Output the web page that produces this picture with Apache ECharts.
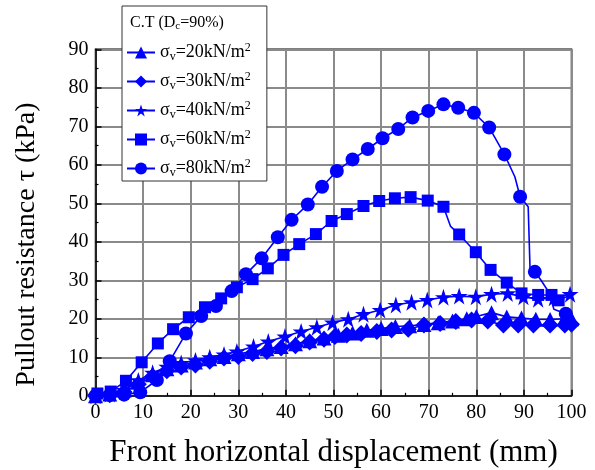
<!DOCTYPE html>
<html>
<head>
<meta charset="utf-8">
<script src="https://cdn.jsdelivr.net/npm/echarts@6/dist/echarts.min.js"></script>
<style>
  html, body { margin: 0; padding: 0; background: #fff; }
  #chart { width: 595px; height: 470px; }
</style>
</head>
<body>
<div id="chart"></div>
<script>
// Pullout resistance vs. front horizontal displacement, C.T (Dc = 90%)
// Each point: [displacement (mm), resistance (kPa)]; a third value of 0 means
// the point is drawn on the line but without a marker.
var labels = ['20', '30', '40', '60', '80'];

var s20 = [
  [0,0],[3,0.5],[6,1.5],[9,3.5],[12,5.5],[15,7],[18,8],[21,8.8],[24,9.6],[27,10.2],
  [30,10.9],[33,11.5],[36,12.2],[39,12.8],[42,13.5],[45,14.3],[48,15],[51,15.7],
  [54,16.3],[57,17],[60,17.5],[63,18],[66,18.2],[69,18.5],[72,19],[75,19.4],
  [78,20],[80,20.6],[83.2,21.6],[86.4,20.5],[89.5,20.2],[92.5,19.9],[95.5,19.8],
  [98.5,20],[100,20]
];
var s30 = [
  [0,0],[3,0.3],[6,1],[9,3],[12,5],[15,6.5],[18,7.5],[21,8],[24,9],[27,9.8],
  [30,10.2],[33,11],[36,11.5],[39,12.4],[42,13],[45,14],[48,14.7],[50.3,15.4],
  [52.8,15.8],[55.8,16.2],[59.1,16.7],[62.2,17.1],[65.7,17.3],[69,18.4],
  [72.4,18.8],[75.7,19.3],[79,19.7],[82.4,19.4],[85.7,18.4],[88.8,18.4],
  [92,18.4],[95.5,18.4],[98.6,18.4],[100,18.6]
];
var s40 = [
  [0,0],[3,0.5],[6,1.5],[9,4],[12,6],[15,7.5],[18,8.5],[21,9.2],[24,10],[27,10.7],
  [29.7,11.5],[33.2,12.8],[36.3,14.1],[39.8,15.4],[43.2,16.7],[46.5,17.8],
  [49.8,19],[53.1,19.9],[56.3,21.2],[59.8,22.3],[63.1,23.6],[66.4,24.3],
  [69.7,24.9],[73.1,25.6],[76.4,25.9],[79.9,25.7],[83.2,26.4],[86.6,26.6],
  [89.9,25.7],[93,25.1],[96.3,25.5],[99.7,26.4]
];
var s60 = [
  [0.4,0.6],[3.2,1.1],[6.4,3.9],[9.7,8.7],[13.1,13.6],[16.3,17.3],[19.6,20.4],
  [23,23],[26.4,25.3],[29.7,28.2],[33,30.3],[36.2,33.1],[39.5,36.6],[42.8,39.4],
  [46.3,42],[49.6,45.4],[52.8,47.2],[56.3,49.3],[59.6,50.6],[62.9,51.3],
  [66.2,51.6],[69.8,50.7],[73.1,49.1],[74.6,44,0],[76.4,41.9],[79.9,37.3],
  [83,32.7],[86.4,29.4],[89.5,26.6],[93,26.2],[95.8,26.2],[97.3,24.8],[100,26.3,0]
];
var s80 = [
  [0,0],[3,0.2],[6,0.3],[9.4,0.9],[12.9,4.1],[15.6,9],[19,16.2],[22.2,20.7],
  [25.3,23.3],[28.6,27.2],[31.6,31.6],[34.9,35.7],[38.3,41.2],[41.2,45.7],
  [44.6,49.7],[47.6,54.3],[50.7,58.4],[54,61.4],[57.2,64.1],[60.3,66.9],
  [63.6,69.3],[66.6,72.3],[69.9,74],[73.1,75.7],[76.2,74.8],[79.5,73.5],
  [82.7,69.7],[85.9,62.7],[88.1,56.9,0],[89.2,51.7],[90.9,49.1,0],[91.3,32.6,0],
  [92.3,32.2],[93.6,30,0],[95.3,26.8,0],[96.3,22.5,0],[98.8,21.3],[100,21,0]
];

var xTicks = { min: 0, max: 100, interval: 10 };
var yTicks = { min: 0, max: 90, interval: 10 };

var STAR = 'path://M50,0 L62,36 L100,36 L69,58 L81,95 L50,72 L19,95 L31,58 L0,36 L38,36 Z';
var symbols = ['triangle', 'diamond', STAR, 'rect', 'circle'];
var sizes = [15, 17, 17, 12, 14];
var sets = [s20, s30, s40, s60, s80];

var BLUE = '#0000ff';
var FONT = '"Liberation Serif", "Times New Roman", serif';

function toItems(arr) {
  return arr.map(function (p) {
    if (p.length > 2 && p[2] === 0) {
      return { value: [p[0], p[1]], symbol: 'none' };
    }
    return { value: [p[0], p[1]] };
  });
}

var series = sets.map(function (d, i) {
  return {
    name: labels[i],
    type: 'line',
    data: toItems(d),
    symbol: symbols[i],
    symbolSize: sizes[i],
    showAllSymbol: true,
    lineStyle: { color: BLUE, width: 1.6 },
    itemStyle: { color: BLUE, borderWidth: 0 },
    emphasis: { disabled: true },
    animation: false
  };
});

var chart = echarts.init(document.getElementById('chart'), null, { renderer: 'canvas' });

var axisCommon = {
  axisLine: { show: true, lineStyle: { color: '#000', width: 1.5 } },
  axisTick: { show: true, inside: true, length: 6, lineStyle: { color: '#000', width: 1.5 } },
  minorTick: { show: true, splitNumber: 2, length: 3, lineStyle: { color: '#000', width: 1.2 } },
  splitLine: { show: true, lineStyle: { color: '#8a8a8a', width: 2 } },
  axisLabel: { color: '#000', fontFamily: FONT, fontSize: 20 }
};

chart.setOption({
  backgroundColor: '#fff',
  animation: false,
  grid: {
    left: 95.5, right: 23.5, top: 49.3, bottom: 74.2,
    outerBoundsMode: 'none',
    containLabel: false,
    show: true, borderColor: '#000', borderWidth: 1.5, backgroundColor: 'transparent'
  },
  title: {
    text: '{a|C.T (D}{s|c}{a|=90%)}',
    left: 125, top: 9,
    textStyle: {
      fontWeight: 'normal',
      rich: {
        a: { fontFamily: FONT, fontSize: 16, fontWeight: 'normal', color: '#000', lineHeight: 18 },
        s: { fontFamily: FONT, fontSize: 11, fontWeight: 'normal', color: '#000', lineHeight: 11, verticalAlign: 'bottom', padding: [6, 0, 0, 0] }
      }
    }
  },
  legend: {
    orient: 'vertical',
    left: 122, top: 6,
    padding: [36, 16, 2, 4],
    itemGap: 8,
    itemWidth: 28,
    itemHeight: 15,
    borderColor: '#333',
    borderWidth: 1,
    backgroundColor: '#fff',
    data: labels,
    formatter: function (name) {
      return '{a|σ}{s|v}{a|=' + name + 'kN/m}{p|2}';
    },
    textStyle: {
      rich: {
        a: { fontFamily: FONT, fontSize: 18, color: '#000', lineHeight: 21 },
        s: { fontFamily: FONT, fontSize: 12, color: '#000', lineHeight: 12, verticalAlign: 'bottom', padding: [8, 0, 0, 0] },
        p: { fontFamily: FONT, fontSize: 12, color: '#000', lineHeight: 12, verticalAlign: 'top', padding: [0, 0, 8, 0] }
      }
    }
  },
  xAxis: Object.assign({}, axisCommon, {
    type: 'value',
    min: xTicks.min, max: xTicks.max, interval: xTicks.interval,
    name: 'Front horizontal displacement (mm)',
    nameLocation: 'middle',
    nameGap: 42,
    nameTextStyle: { fontFamily: FONT, fontSize: 31, color: '#000' },
    axisLabel: Object.assign({}, axisCommon.axisLabel, { margin: 7 })
  }),
  yAxis: Object.assign({}, axisCommon, {
    type: 'value',
    min: yTicks.min, max: yTicks.max, interval: yTicks.interval,
    name: 'Pullout resistance τ (kPa)',
    nameLocation: 'middle',
    nameGap: 55,
    nameTextStyle: { fontFamily: FONT, fontSize: 28, color: '#000', padding: [0, 44, 0, 0] },
    axisLabel: Object.assign({}, axisCommon.axisLabel, { margin: 7 })
  }),
  series: series
});
</script>
</body>
</html>
